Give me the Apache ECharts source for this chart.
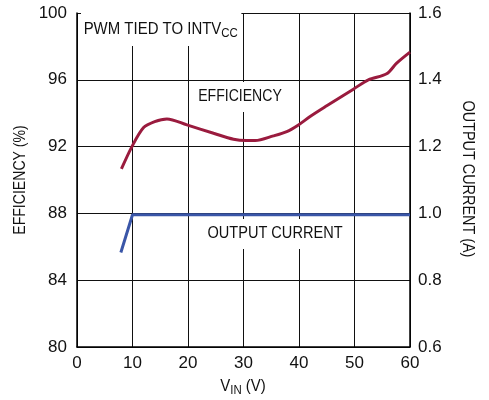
<!DOCTYPE html>
<html>
<head>
<meta charset="utf-8">
<script src="https://cdn.jsdelivr.net/npm/echarts@6/dist/echarts.min.js"></script>
<style>
  html, body { margin: 0; padding: 0; background: #fff; }
  #chart { width: 489px; height: 400px; }
</style>
</head>
<body>
<div id="chart"></div>
<script>
// efficiency vs VIN
var effVin = [8.0, 9.9, 12.0, 14.0, 16.2, 19.8, 24.6, 28.2, 30.5, 32.1, 35.4, 37.8, 39.9, 42.0, 45.0, 49.8, 52.5, 55.8, 57.6, 60.0];
var effPct = [90.66, 92.0, 93.14, 93.5, 93.66, 93.3, 92.8, 92.44, 92.36, 92.36, 92.64, 92.9, 93.3, 93.8, 94.44, 95.44, 96.0, 96.36, 97.0, 97.66];

// output current vs VIN
var curVin = [7.9, 10.0, 20, 30, 40, 50, 60];
var curAmp = [0.883, 0.996, 0.996, 0.996, 0.996, 0.996, 0.996];

var xTicks = [0, 10, 20, 30, 40, 50, 60];
var effTicks = [80, 84, 88, 92, 96, 100];
var curTicks = [0.6, 0.8, 1.0, 1.2, 1.4, 1.6];

var FONT = '"Liberation Sans Narrow", "Liberation Sans", Arial, sans-serif';
var RED = '#9a1b3e';
var BLUE = '#3a56a8';
// no narrow font here, so graphic texts get squeezed a bit
var SQ = 0.88;

function pairs(xs, ys) {
	return xs.map(function(x, i) { return [x, ys[i]] })
}

var chart = echarts.init(document.getElementById('chart'), null, { renderer: 'canvas' })
chart.setOption({
	animation: false,
	grid: { left: 77, right: 79, top: 13, bottom: 53, containLabel: false },
	xAxis: {
		type: 'value',
		min: xTicks[0],
		max: xTicks[xTicks.length - 1],
		interval: 10,
		axisLine: { show: true, onZero: false, lineStyle: { color: '#000', width: 1.5 } },
		axisTick: { show: false },
		splitLine: { show: true, lineStyle: { color: '#111', width: 1 } },
		axisLabel: { color: '#111', fontFamily: FONT, fontSize: 17, margin: 8 }
	},
	yAxis: [{
			type: 'value',
			min: effTicks[0],
			max: effTicks[effTicks.length - 1],
			interval: 4,
			axisLine: { show: true, lineStyle: { color: '#000', width: 1.5 } },
			axisTick: { show: false },
			splitLine: { show: true, lineStyle: { color: '#111', width: 1 } },
			axisLabel: { color: '#111', fontFamily: FONT, fontSize: 17, margin: 10 }
		},
		{
			type: 'value',
			position: 'right',
			min: curTicks[0],
			max: curTicks[curTicks.length - 1],
			interval: 0.2,
			axisLine: { show: true, lineStyle: { color: '#000', width: 1.5 } },
			axisTick: { show: false },
			splitLine: { show: false },
			axisLabel: {
				color: '#111', fontFamily: FONT, fontSize: 17, margin: 8,
				formatter: function(v) { return v.toFixed(1) }
			}
		}
	],
	series: [{
			name: 'EFFICIENCY',
			type: 'line',
			yAxisIndex: 0,
			data: pairs(effVin, effPct),
			smooth: 0.3,
			showSymbol: false,
			z: 5,
			lineStyle: { color: RED, width: 3 }
		},
		{
			name: 'OUTPUT CURRENT',
			type: 'line',
			yAxisIndex: 1,
			data: pairs(curVin, curAmp),
			showSymbol: false,
			z: 5,
			lineStyle: { color: BLUE, width: 3 }
		}
	],
	graphic: [
		// title box top-left inside plot
		{
			type: 'text', x: 81, y: 29, z: 10, scaleX: SQ,
			style: {
				text: '{a|PWM TIED TO INTV}{s|CC}',
				verticalAlign: 'middle',
				backgroundColor: '#fff',
				padding: [7, 4, 6, 3],
				rich: {
					a: { fontFamily: FONT, fontSize: 17, fill: '#111', color: '#111' },
					s: { fontFamily: FONT, fontSize: 13, fill: '#111', color: '#111', padding: [8, 0, 0, 0] }
				}
			}
		},
		{
			type: 'text', x: 240, y: 97, z: 10, scaleX: SQ,
			style: {
				text: 'EFFICIENCY', font: '16px ' + FONT, fill: '#111',
				align: 'center', verticalAlign: 'middle',
				backgroundColor: '#fff', padding: [7, 3, 7, 3]
			}
		},
		{
			type: 'text', x: 275, y: 234, z: 10, scaleX: 0.91,
			style: {
				text: 'OUTPUT CURRENT', font: '16px ' + FONT, fill: '#111',
				align: 'center', verticalAlign: 'middle',
				backgroundColor: '#fff', padding: [7, 3, 7, 3]
			}
		},
		// axis names
		{
			type: 'text', x: 21, y: 180, rotation: Math.PI / 2, scaleX: SQ,
			style: {
				text: 'EFFICIENCY (%)', font: '16px ' + FONT, fill: '#111',
				align: 'center', verticalAlign: 'middle'
			}
		},
		{
			type: 'text', x: 467, y: 179, rotation: -Math.PI / 2, scaleX: 0.9,
			style: {
				text: 'OUTPUT CURRENT (A)', font: '16px ' + FONT, fill: '#111',
				align: 'center', verticalAlign: 'middle'
			}
		},
		{
			type: 'text', x: 243, y: 386, scaleX: SQ,
			style: {
				text: '{a|V}{s|IN}{a| (V)}',
				align: 'center', verticalAlign: 'middle',
				rich: {
					a: { fontFamily: FONT, fontSize: 17, fill: '#111', color: '#111' },
					s: { fontFamily: FONT, fontSize: 13, fill: '#111', color: '#111', padding: [8, 0, 0, 0] }
				}
			}
		}
	]
})
</script>
</body>
</html>
